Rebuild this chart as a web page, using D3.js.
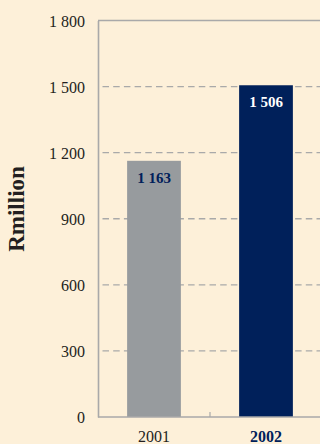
<!DOCTYPE html>
<html>
<head>
<meta charset="utf-8">
<script src="https://cdn.jsdelivr.net/npm/d3@7"></script>
<style>
  html, body { margin: 0; padding: 0; background: #fdf0d9; }
  svg { display: block; }
</style>
</head>
<body>
<svg id="chart" width="320" height="444"></svg>
<script>
// Annual figures, R million
const years = ["2001", "2002"];
const values = [1163, 1506];
const valueLabels = ["1 163", "1 506"];
const yTicks = [0, 300, 600, 900, 1200, 1500, 1800];
const yTickLabels = ["0", "300", "600", "900", "1 200", "1 500", "1 800"];
const yTitle = "Rmillion";

const navy = "#00205a";
const grey = "#979b9e";
const axisGrey = "#a9a9a9";
const ink = "#231f20";

const svg = d3.select("#chart");
const plotLeft = 98, plotRight = 322, plotTop = 20.5, plotBottom = 417;

const x = d3.scaleBand().domain(years).range([plotLeft, plotRight]).paddingInner(0.52).paddingOuter(0.26);
const y = d3.scaleLinear().domain([0, 1800]).range([plotBottom, plotTop]);

// Dashed gridlines behind the bars
svg.append("g").selectAll("line")
  .data(yTicks.filter(t => t > 0 && t < 1800))
  .join("line")
  .attr("x1", plotLeft + 4.5).attr("x2", 320)
  .attr("y1", d => y(d)).attr("y2", d => y(d))
  .attr("stroke", axisGrey).attr("stroke-width", 1.4)
  .attr("stroke-dasharray", "6.5 4.2");

// Solid top border at 1 800
svg.append("line")
  .attr("x1", plotLeft).attr("x2", 320)
  .attr("y1", y(1800)).attr("y2", y(1800))
  .attr("stroke", axisGrey).attr("stroke-width", 1.5);

// Bars
svg.append("g").selectAll("rect")
  .data(values)
  .join("rect")
  .attr("x", (d, i) => x(years[i]))
  .attr("width", x.bandwidth())
  .attr("y", d => y(d))
  .attr("height", d => y(0) - y(d))
  .attr("fill", (d, i) => i === 0 ? grey : navy);

// Value labels inside bar tops
svg.append("g").selectAll("text")
  .data(values)
  .join("text")
  .attr("x", (d, i) => x(years[i]) + x.bandwidth() / 2)
  .attr("y", d => y(d) + 22)
  .attr("text-anchor", "middle")
  .attr("font-family", "'Liberation Serif', 'Times New Roman', serif")
  .attr("font-weight", "bold")
  .attr("font-size", 15)
  .attr("fill", (d, i) => i === 0 ? navy : "#ffffff")
  .text((d, i) => valueLabels[i]);

// Y axis
const yAxis = d3.axisLeft(y).tickValues(yTicks)
  .tickFormat((d, i) => yTickLabels[i]).tickSize(0).tickPadding(13);
const gy = svg.append("g").attr("transform", `translate(${plotLeft},0)`).call(yAxis);
gy.select(".domain").attr("stroke", axisGrey).attr("stroke-width", 1.6);
gy.selectAll("text")
  .attr("font-family", "'Liberation Serif', 'Times New Roman', serif")
  .attr("font-size", 16).attr("fill", ink).attr("dy", "0.36em");

// X axis
const xAxis = d3.axisBottom(x).tickSize(0).tickPadding(14);
const gx = svg.append("g").attr("transform", `translate(0,${plotBottom})`).call(xAxis);
gx.select(".domain").attr("d", `M${plotLeft},0H320`).attr("stroke", axisGrey).attr("stroke-width", 1.6);
gx.selectAll("text")
  .attr("font-family", "'Liberation Serif', 'Times New Roman', serif")
  .attr("font-size", 16)
  .attr("font-weight", d => d === "2002" ? "bold" : "normal")
  .attr("fill", d => d === "2002" ? navy : ink);

// Category separator tick
svg.append("line")
  .attr("x1", x.step() + plotLeft).attr("x2", x.step() + plotLeft)
  .attr("y1", plotBottom - 5).attr("y2", plotBottom)
  .attr("stroke", axisGrey).attr("stroke-width", 1.2);

// Y axis title
svg.append("text")
  .attr("transform", "translate(24,209) rotate(-90)")
  .attr("text-anchor", "middle")
  .attr("font-family", "'Liberation Serif', 'Times New Roman', serif")
  .attr("font-weight", "bold")
  .attr("font-size", 23)
  .attr("fill", ink)
  .text(yTitle);
</script>
</body>
</html>
